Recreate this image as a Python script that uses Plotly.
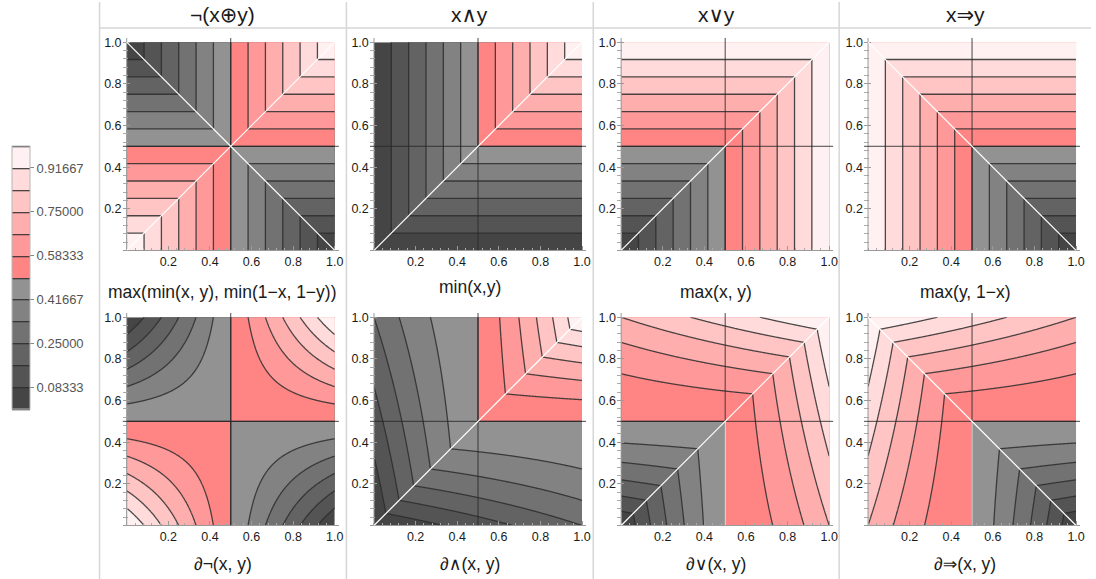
import numpy as np
import plotly.graph_objects as go

# ---------------- data ----------------
GRID = np.linspace(0.0, 1.0, 301)          # x and y sample positions
LEVEL_SIZE = 1 / 12                        # contour spacing
BAND_COLORS = ["#454545", "#545454", "#636363", "#727272", "#828282", "#929292",
               "#ff8585", "#ff9999", "#ffaeae", "#ffc4c4", "#ffdbdb", "#fff1f1"]
COLUMN_TITLES = ["¬(x⊕y)", "x∧y", "x∨y", "x⇒y"]
TOP_LABELS = ["max(min(x, y), min(1−x, 1−y))", "min(x,y)", "max(x, y)", "max(y, 1−x)"]
BOTTOM_LABELS = ["∂¬(x, y)", "∂∧(x, y)", "∂∨(x, y)", "∂⇒(x, y)"]
AXIS_TICKS = [0.2, 0.4, 0.6, 0.8, 1.0]
AXIS_TICKTEXT = ["0.2", "0.4", "0.6", "0.8", "1.0"]
LEGEND_TICKS = [1 / 12, 3 / 12, 5 / 12, 7 / 12, 9 / 12, 11 / 12]
LEGEND_TICKTEXT = ["0.08333", "0.25000", "0.41667", "0.58333", "0.75000", "0.91667"]


def f_not_xor(x, y):
    return np.maximum(np.minimum(x, y), np.minimum(1 - x, 1 - y))


def f_and(x, y):
    return np.minimum(x, y)


def f_or(x, y):
    return np.maximum(x, y)


def f_implies(x, y):
    return np.maximum(y, 1 - x)


def d_not(x, y):
    return x * y + (1 - x) * (1 - y)


def d_and(x, y):
    m = np.minimum(x, y)
    a = (x + y) / 2
    return np.where(m > 0.5, 0.5 + (m - 0.5) * a, 0.5 - (0.5 - m) * (1 - a))


def d_or(x, y):
    return 1 - d_and(1 - x, 1 - y)


def d_implies(x, y):
    return d_or(1 - x, y)


TOP_FUNCS = [f_not_xor, f_and, f_or, f_implies]
BOTTOM_FUNCS = [d_not, d_and, d_or, d_implies]

# white guide lines per panel (by name)
TOP_GUIDES = [["diag", "anti"], ["diag"], ["diag"], ["anti"]]
BOTTOM_GUIDES = [[], ["diag"], ["diag", "vlow"], ["anti", "vlow"]]

# ---------------- layout geometry (pixels) ----------------
W, H = 1096, 579
COL_X0 = [127.3, 375.7, 624.0, 872.0]
ROW_Y0 = [249.3, 525.3]
UNIT = 209.0
COL_CENTER = [224, 472, 719.5, 969.5]
SEPARATORS_X = [100, 348, 596, 843]
HEADER_Y = 13
LABEL_Y = [[291, 286, 291, 291], [564, 564, 564, 564]]

FONT = "Liberation Sans, Arial, DejaVu Sans, sans-serif"

XG, YG = np.meshgrid(GRID, GRID)

stepped_scale = []
for k, c in enumerate(BAND_COLORS):
    stepped_scale.append([k / 12, c])
    stepped_scale.append([(k + 1) / 12, c])
node_scale = [[k / 11, c] for k, c in enumerate(BAND_COLORS)]

fig = go.Figure()
layout_axes = {}
shapes = []
annotations = []

line_style = dict(color="rgba(45,45,45,0.85)", width=1.3)

panels = [(0, c, TOP_FUNCS[c], TOP_GUIDES[c]) for c in range(4)] + \
         [(1, c, BOTTOM_FUNCS[c], BOTTOM_GUIDES[c]) for c in range(4)]

for idx, (r, c, func, guides) in enumerate(panels, start=1):
    z = func(XG, YG)
    sfx = "" if idx == 1 else str(idx)
    if idx == 1:
        tr = go.Contour(
            x=GRID, y=GRID, z=z, zmin=0, zmax=1,
            contours=dict(start=0, end=1, size=LEVEL_SIZE, coloring="fill", showlines=True),
            colorscale=stepped_scale, line=line_style, showscale=True,
            colorbar=dict(
                x=12.3 / W, xanchor="left", xref="paper",
                y=1 - 276.5 / H, yanchor="middle", yref="paper",
                len=263, lenmode="pixels", thickness=18, thicknessmode="pixels",
                xpad=0, ypad=0, outlinecolor="#b8b8b8", outlinewidth=1,
                tickvals=LEGEND_TICKS, ticktext=LEGEND_TICKTEXT,
                ticks="outside", ticklen=4, tickcolor="#888",
                tickfont=dict(family=FONT, size=13, color="#555"),
            ),
            hoverinfo="skip", xaxis="x" + sfx, yaxis="y" + sfx,
        )
    else:
        tr = go.Contour(
            x=GRID, y=GRID, z=z,
            contours=dict(start=LEVEL_SIZE, end=1 - LEVEL_SIZE, size=LEVEL_SIZE,
                          coloring="fill", showlines=True),
            colorscale=node_scale, line=line_style, showscale=False,
            hoverinfo="skip", xaxis="x" + sfx, yaxis="y" + sfx,
        )
    fig.add_trace(tr)

    x0 = COL_X0[c]
    y0 = ROW_Y0[r]
    xdom = [(x0 - 0.02 * UNIT) / W, (x0 + 1.02 * UNIT) / W]
    ydom = [1 - y0 / H, 1 - (y0 - 1.02 * UNIT) / H]
    tickfont = dict(family=FONT, size=12.5, color="#1a1a1a")
    layout_axes["xaxis" + sfx] = dict(
        domain=xdom, range=[-0.02, 1.02], anchor="y" + sfx,
        showgrid=False, zeroline=False, showline=True, linecolor="#9a9a9a", linewidth=1,
        tickvals=AXIS_TICKS, ticktext=AXIS_TICKTEXT, ticks="inside", ticklen=4,
        tickcolor="#9a9a9a", tickwidth=1,
        minor=dict(dtick=0.04, tick0=0, ticks="inside", ticklen=2.5, tickcolor="#aaaaaa"),
        tickfont=tickfont, layer="above traces", fixedrange=True,
    )
    layout_axes["yaxis" + sfx] = dict(
        domain=ydom, range=[0, 1.02], anchor="x" + sfx,
        showgrid=False, zeroline=False, showline=False,
        tickvals=AXIS_TICKS, ticktext=AXIS_TICKTEXT, ticks="inside", ticklen=7,
        tickcolor="#9a9a9a", tickwidth=1,
        minor=dict(dtick=0.04, tick0=0, ticks="inside", ticklen=5, tickcolor="#aaaaaa"),
        tickfont=tickfont, layer="above traces", fixedrange=True,
    )

    xr, yr = "x" + sfx, "y" + sfx
    # left axis line at x = 0
    shapes.append(dict(type="line", xref=xr, yref=yr, x0=0, x1=0, y0=0, y1=1.02,
                       line=dict(color="#9a9a9a", width=1)))
    # dark reference lines at 0.5
    shapes.append(dict(type="line", xref=xr, yref=yr, x0=-0.02, x1=1.02, y0=0.5, y1=0.5,
                       line=dict(color="rgba(40,40,40,0.85)", width=1)))
    shapes.append(dict(type="line", xref=xr, yref=yr, x0=0.5, x1=0.5, y0=0, y1=1.02,
                       line=dict(color="rgba(40,40,40,0.85)", width=1)))
    guide_map = {"diag": (0, 0, 1, 1), "anti": (0, 1, 1, 0), "vlow": (0.5, 0, 0.5, 0.5)}
    for g in guides:
        gx0, gy0, gx1, gy1 = guide_map[g]
        shapes.append(dict(type="line", xref=xr, yref=yr, x0=gx0, y0=gy0, x1=gx1, y1=gy1,
                           line=dict(color="white", width=1.2)))

    labels = TOP_LABELS if r == 0 else BOTTOM_LABELS
    annotations.append(dict(text=labels[c], x=COL_CENTER[c] / W, y=1 - LABEL_Y[r][c] / H,
                            xref="paper", yref="paper", showarrow=False,
                            xanchor="center", yanchor="middle",
                            font=dict(family=FONT, size=17.5, color="#1a1a1a")))

for c, t in enumerate(COLUMN_TITLES):
    annotations.append(dict(text=t, x=COL_CENTER[c] / W, y=1 - HEADER_Y / H,
                            xref="paper", yref="paper", showarrow=False,
                            xanchor="center", yanchor="middle",
                            font=dict(family=FONT, size=21, color="#1a1a1a")))

# grid separators
for sx in SEPARATORS_X:
    shapes.append(dict(type="line", xref="paper", yref="paper", x0=sx / W, x1=sx / W,
                       y0=0, y1=1, line=dict(color="#d6d6d6", width=1.5), layer="below"))
shapes.append(dict(type="line", xref="paper", yref="paper", x0=SEPARATORS_X[0] / W, x1=1,
                   y0=1 - 26 / H, y1=1 - 26 / H, line=dict(color="#d6d6d6", width=1.5),
                   layer="below"))

fig.update_layout(
    width=W, height=H, margin=dict(l=0, r=0, t=0, b=0),
    paper_bgcolor="white", plot_bgcolor="rgba(0,0,0,0)",
    showlegend=False, shapes=shapes, annotations=annotations,
    font=dict(family=FONT), **layout_axes,
)

fig.write_html(
    "out.html",
    config={"displayModeBar": False},
    post_script="document.body.style.margin='0';document.body.style.overflow='hidden';",
)
